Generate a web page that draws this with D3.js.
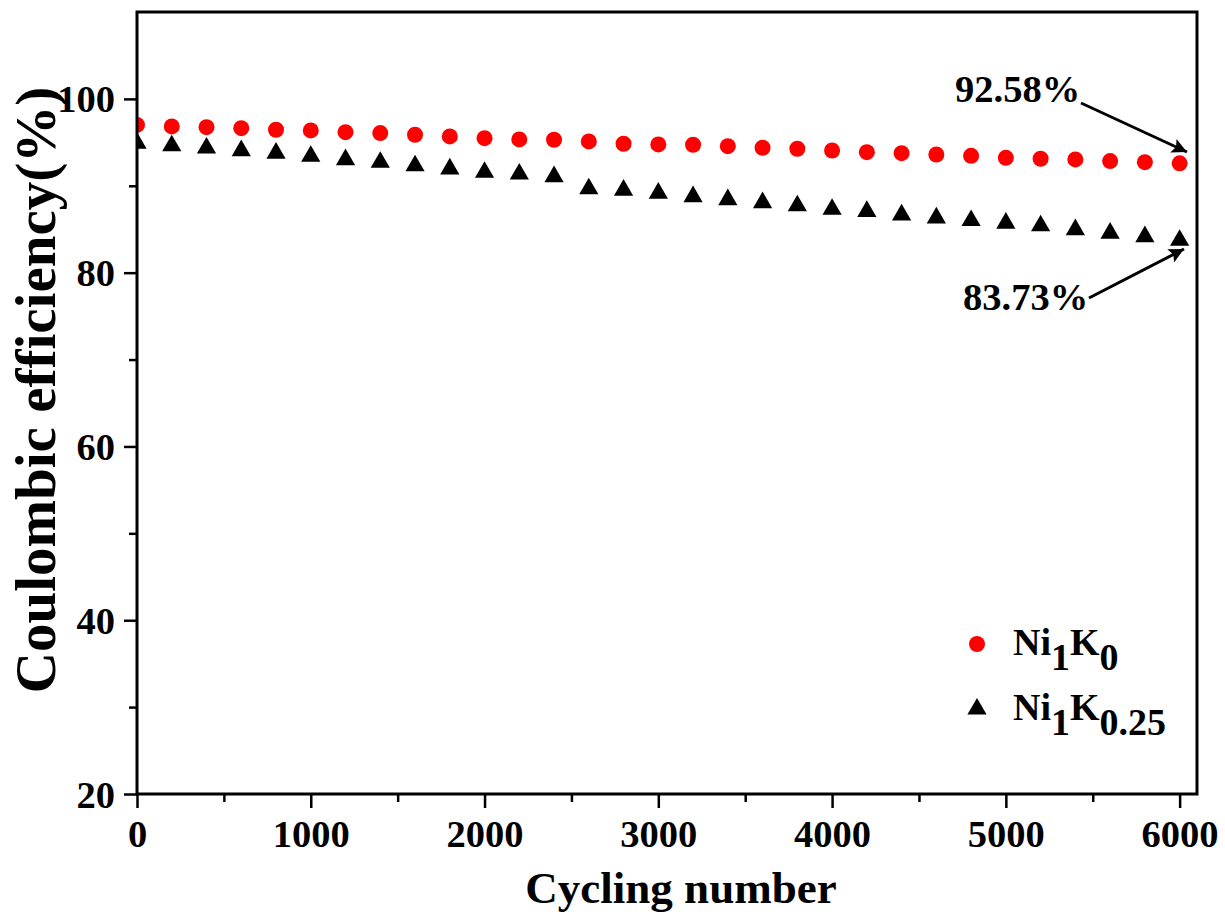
<!DOCTYPE html>
<html>
<head>
<meta charset="utf-8">
<script src="https://cdn.jsdelivr.net/npm/d3@7"></script>
<style>
  body { margin: 0; background: #fff; }
  svg text { font-family: "Liberation Serif", "Times New Roman", serif; font-weight: bold; }
</style>
</head>
<body>
<div class="container"></div>
<script>
// data
const cycles = [0, 200, 400, 600, 800, 1000, 1200, 1400, 1600, 1800, 2000, 2200, 2400, 2600, 2800, 3000,
    3200, 3400, 3600, 3800, 4000, 4200, 4400, 4600, 4800, 5000, 5200, 5400, 5600, 5800, 6000];
const ni1k0 = [97.0, 96.83, 96.74, 96.63, 96.45, 96.37, 96.17, 96.06, 95.87, 95.68, 95.48, 95.33, 95.3, 95.1,
    94.84, 94.76, 94.72, 94.56, 94.38, 94.26, 94.06, 93.87, 93.75, 93.6, 93.45, 93.22, 93.11, 93.03, 92.84,
    92.72, 92.58];
const ni1k025 = [94.9, 94.6, 94.35, 94.05, 93.75, 93.4, 93.0, 92.7, 92.3, 91.95, 91.55, 91.35, 91.05, 89.65,
    89.5, 89.15, 88.75, 88.4, 88.05, 87.7, 87.3, 87.05, 86.65, 86.3, 86.0, 85.7, 85.4, 84.95, 84.55, 84.15,
    83.73];
const xTicks = [0, 1000, 2000, 3000, 4000, 5000, 6000];
const xMinor = [500, 1500, 2500, 3500, 4500, 5500];
const yTicks = [20, 40, 60, 80, 100];
const yMinor = [30, 50, 70, 90];

const W = 1225, H = 917;
const m = { left: 137, top: 12, right: 1197, bottom: 794 };
const w = m.right - m.left, h = m.bottom - m.top;

const x = d3.scaleLinear().domain([0, 6100]).range([0, w]);
const y = d3.scaleLinear().domain([20, 110]).range([h, 0]);

const svg = d3.select(".container").append("svg")
    .attr("width", W).attr("height", H);

const defs = svg.append("defs");
defs.append("clipPath").attr("id", "clip")
    .append("rect").attr("width", w).attr("height", h);

defs.append("marker")
    .attr("id", "arrow")
    .attr("viewBox", "0 0 10 10")
    .attr("refX", 10).attr("refY", 5)
    .attr("markerWidth", 6.5).attr("markerHeight", 5)
    .attr("markerUnits", "strokeWidth")
    .attr("orient", "auto")
    .append("path").attr("d", "M0,0 L10,5 L0,10 L2,5 Z").attr("fill", "#000");

const g = svg.append("g").attr("transform", `translate(${m.left},${m.top})`);

// points
const plot = g.append("g").attr("clip-path", "url(#clip)");
plot.selectAll(".dot")
    .data(cycles.map((c, i) => [c, ni1k0[i]]))
    .enter().append("circle")
    .attr("class", "dot")
    .attr("cx", (d) => x(d[0]))
    .attr("cy", (d) => y(d[1]))
    .attr("r", 8)
    .attr("fill", "#ff0000");

const tri = d3.symbol(d3.symbolTriangle, 160);
plot.selectAll(".tri")
    .data(cycles.map((c, i) => [c, ni1k025[i]]))
    .enter().append("path")
    .attr("class", "tri")
    .attr("d", tri)
    .attr("transform", (d) => `translate(${x(d[0])},${y(d[1])})`)
    .attr("fill", "#000");

// axes
const styleAxis = (sel) => {
    sel.selectAll("path.domain").remove();
    sel.selectAll("line").attr("stroke", "#000").attr("stroke-width", 2.5);
    sel.selectAll("text").attr("fill", "#000").style("font-size", "38.5px");
};

g.append("g").attr("transform", `translate(0,${h})`)
    .call(d3.axisBottom(x).tickValues(xMinor).tickSize(8).tickFormat(""))
    .call(styleAxis);
g.append("g").attr("transform", `translate(0,${h})`)
    .call(d3.axisBottom(x).tickValues(xTicks).tickSize(14).tickFormat(d3.format("d")))
    .call(styleAxis)
    .call((s) => s.selectAll("text").attr("y", 53).attr("dy", 0));

g.append("g")
    .call(d3.axisLeft(y).tickValues(yMinor).tickSize(8).tickFormat(""))
    .call(styleAxis);
g.append("g")
    .call(d3.axisLeft(y).tickValues(yTicks).tickSize(13).tickFormat(d3.format("d")))
    .call(styleAxis)
    .call((s) => s.selectAll("text").attr("x", -22).attr("dy", "0.34em"));

// frame
g.append("rect")
    .attr("width", w).attr("height", h)
    .attr("fill", "none").attr("stroke", "#000").attr("stroke-width", 3);

// titles
svg.append("text")
    .attr("x", 681).attr("y", 903)
    .attr("text-anchor", "middle")
    .style("font-size", "45px")
    .text("Cycling number");

svg.append("text")
    .attr("transform", "translate(55,390) rotate(-90)")
    .attr("text-anchor", "middle")
    .style("font-size", "57px")
    .text("Coulombic efficiency(%)");

// annotations
svg.append("text").attr("x", 955).attr("y", 102).style("font-size", "38.5px").text("92.58%");
svg.append("line")
    .attr("x1", 1081).attr("y1", 103).attr("x2", 1187).attr("y2", 152)
    .attr("stroke", "#000").attr("stroke-width", 3)
    .attr("marker-end", "url(#arrow)");

svg.append("text").attr("x", 963).attr("y", 310).style("font-size", "38.5px").text("83.73%");
svg.append("line")
    .attr("x1", 1089).attr("y1", 298).attr("x2", 1184).attr("y2", 249)
    .attr("stroke", "#000").attr("stroke-width", 3)
    .attr("marker-end", "url(#arrow)");

// legend
const legend = svg.append("g");
legend.append("circle").attr("cx", 977).attr("cy", 644).attr("r", 8).attr("fill", "#ff0000");
legend.append("path").attr("d", tri).attr("transform", "translate(977,709)").attr("fill", "#000");

const legendText = (yPos, sub2) => {
    const t = legend.append("text").attr("x", 1013).attr("y", yPos).style("font-size", "38px");
    t.append("tspan").text("Ni");
    t.append("tspan").attr("dy", 15).text("1");
    t.append("tspan").attr("dy", -15).text("K");
    t.append("tspan").attr("dy", 15).text(sub2);
};
legendText(655, "0");
legendText(720, "0.25");
</script>
</body>
</html>
